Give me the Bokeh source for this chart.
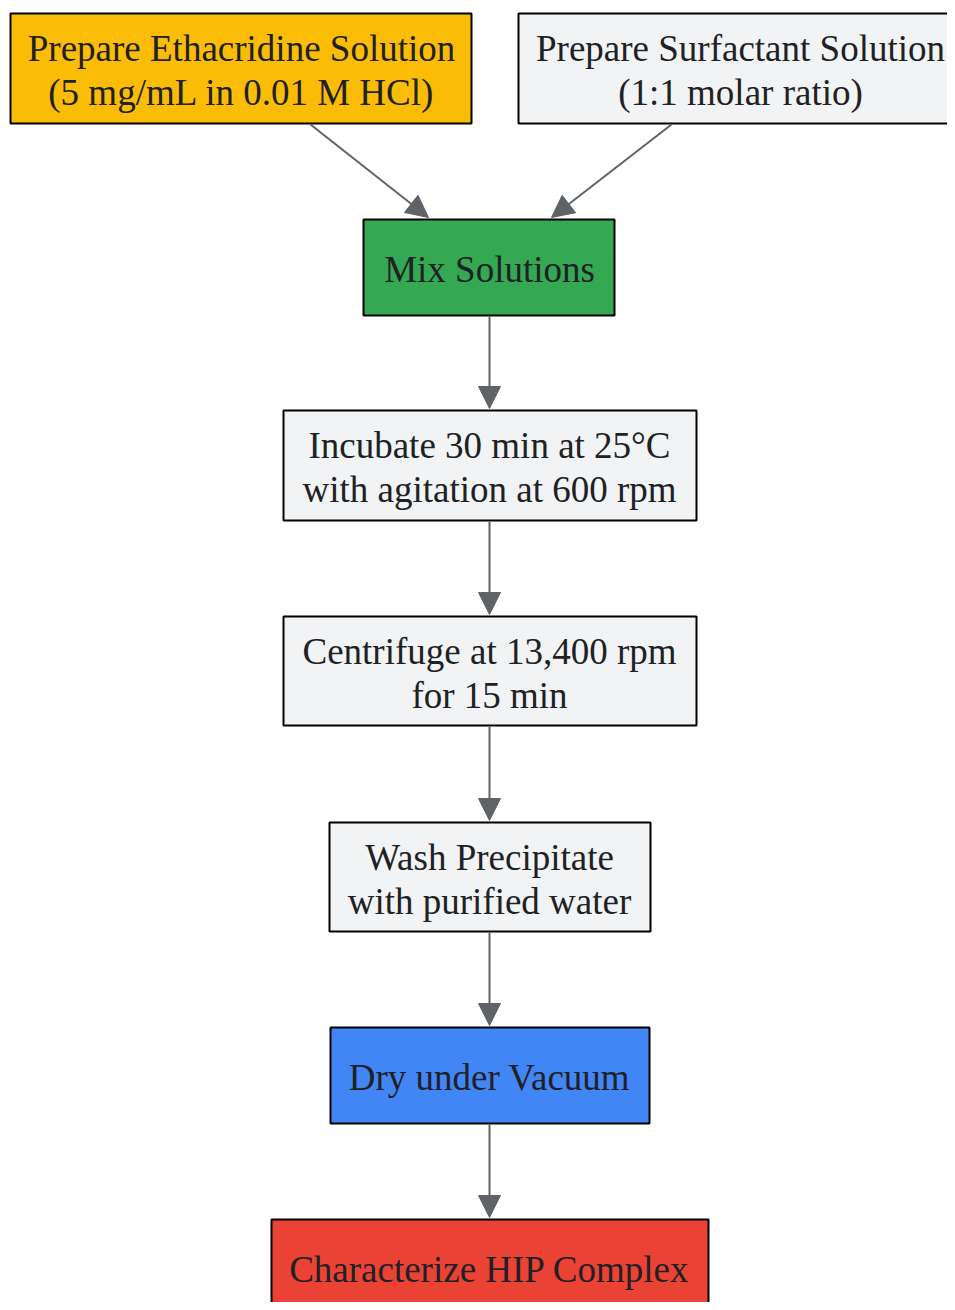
from bokeh.plotting import figure
from bokeh.models import Range1d, Arrow, NormalHead, ColumnDataSource
from bokeh.core.properties import value
from bokeh.embed import file_html
from bokeh.resources import INLINE

# ---- data: flowchart nodes and edges ----
node_labels = [
    ["Prepare Ethacridine Solution", "(5 mg/mL in 0.01 M HCl)"],
    ["Prepare Surfactant Solution", "(1:1 molar ratio)"],
    ["Mix Solutions"],
    ["Incubate 30 min at 25°C", "with agitation at 600 rpm"],
    ["Centrifuge at 13,400 rpm", "for 15 min"],
    ["Wash Precipitate", "with purified water"],
    ["Dry under Vacuum"],
    ["Characterize HIP Complex"],
]
node_colors = ["#FBBC05", "#F1F3F4", "#34A853", "#F1F3F4", "#F1F3F4", "#F1F3F4", "#4285F4", "#EA4335"]
edges = [(0, 2), (1, 2), (2, 3), (3, 4), (4, 5), (5, 6), (6, 7)]

# ---- layout (pixel positions of boxes: left, right, top, bottom) ----
box_left = [10, 518, 363, 283, 283, 329, 330, 271]
box_right = [471, 965, 614, 696, 696, 650, 649, 708]
box_top = [13, 13, 219, 410, 616, 822, 1027, 1219]
box_bottom = [123, 123, 315, 520, 725, 931, 1123, 1330]
text_cx = [241, 740, 489, 489, 489, 489, 489, 489]
edge_start_x = [310, 671, 489, 489, 489, 489, 489]
edge_end_x = [428, 551, 489, 489, 489, 489, 489]

FONT = "Liberation Serif"
FS = 37
LINE_H = 44

p = figure(width=947, height=1302, output_backend="svg", toolbar_location=None,
           x_range=Range1d(0, 947), y_range=Range1d(1302, 0),
           min_border=0, background_fill_color="white", border_fill_color="white")
p.axis.visible = False
p.grid.visible = False
p.outline_line_color = None

src = ColumnDataSource(dict(left=box_left, right=box_right, top=box_top,
                            bottom=box_bottom, color=node_colors))
p.quad(left="left", right="right", top="top", bottom="bottom", source=src,
       fill_color="color", line_color="#000000", line_width=2)

# text lines
tx, ty, tt = [], [], []
for i, lines in enumerate(node_labels):
    n = len(lines)
    h_box = 110 if n == 2 else 96
    mid = box_top[i] + h_box / 2 + 1.5
    for j, ln in enumerate(lines):
        tx.append(text_cx[i])
        ty.append(mid + (j - (n - 1) / 2) * LINE_H)
        tt.append(ln)
p.text(x=tx, y=ty, text=tt, text_font=value(FONT), text_font_size=f"{FS}px",
       text_color="#202124", text_align="center", text_baseline="middle")

# edges
for k, (a, b) in enumerate(edges):
    p.add_layout(Arrow(end=NormalHead(size=22, fill_color="#5F6368", line_color="#5F6368", line_width=1),
                       x_start=edge_start_x[k], y_start=box_bottom[a] + 1,
                       x_end=edge_end_x[k], y_end=box_top[b] - 2,
                       line_color="#5F6368", line_width=2))

open("out.html", "w").write(file_html(p, INLINE))
